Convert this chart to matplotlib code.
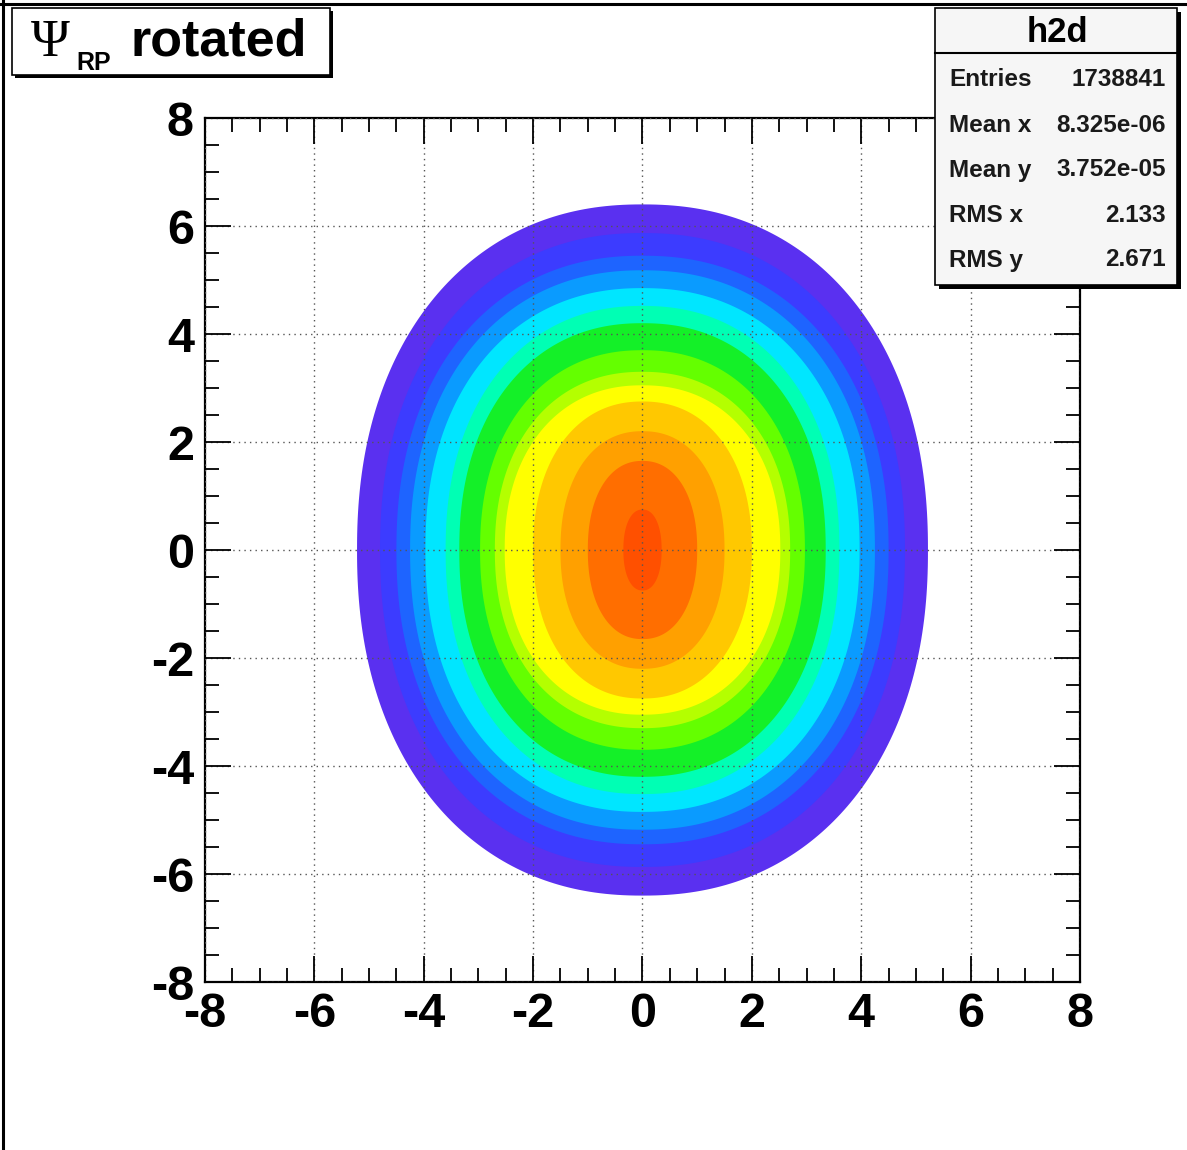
import matplotlib
matplotlib.use("Agg")
import numpy as np
import matplotlib.pyplot as plt
from matplotlib.patches import PathPatch, Rectangle
from matplotlib.path import Path
from matplotlib.lines import Line2D
from matplotlib.ticker import MultipleLocator

plt.rcParams["font.family"] = ["Liberation Sans", "DejaVu Sans"]
plt.rcParams["axes.unicode_minus"] = False

# h2d contour bands, outermost level first: half-extent of each level along x and y
BAND_HALF_X = [5.22, 4.80, 4.50, 4.25, 3.97, 3.60, 3.35, 2.97, 2.70, 2.52, 2.00, 1.50, 1.00, 0.35]
BAND_HALF_Y = [6.40, 5.87, 5.45, 5.18, 4.85, 4.52, 4.20, 3.70, 3.30, 3.05, 2.75, 2.20, 1.65, 0.75]
BAND_COLORS = ["#5a30f0", "#3c3cff", "#1e64ff", "#0a9bff", "#00e6ff", "#00ffb4",
               "#14f028", "#64ff00", "#b4ff00", "#ffff00", "#ffc800", "#ffa000",
               "#ff6e00", "#ff5000"]

# statistics box of h2d
STAT_NAMES = ["Entries", "Mean x", "Mean y", "RMS x", "RMS y"]
STAT_VALUES = ["1738841", "8.325e-06", "3.752e-05", "2.133", "2.671"]

W, H = 1187, 1150
SQUARENESS = 2.2   # contour outlines are a little flatter than an ellipse


def fx(px):
    return px / W


def fy(py):
    return 1 - py / H


def band_path(hx, hy, n=SQUARENESS):
    t = np.linspace(0, 2 * np.pi, 361)
    c, s = np.cos(t), np.sin(t)
    xs = hx * np.sign(c) * np.abs(c) ** (2 / n)
    ys = hy * np.sign(s) * np.abs(s) ** (2 / n)
    return Path(np.column_stack([xs, ys]), closed=True)


def main():
    fig = plt.figure(figsize=(W / 100, H / 100), dpi=100)
    fig.patch.set_facecolor("white")

    ax = fig.add_axes([fx(205), fy(982), fx(1080) - fx(205), fy(118) - fy(982)])
    for hx, hy, c in zip(BAND_HALF_X, BAND_HALF_Y, BAND_COLORS):
        ax.add_patch(PathPatch(band_path(hx, hy), facecolor=c, edgecolor="none", zorder=1))

    ax.set_xlim(-8, 8)
    ax.set_ylim(-8, 8)
    ax.xaxis.set_major_locator(MultipleLocator(2))
    ax.yaxis.set_major_locator(MultipleLocator(2))
    ax.xaxis.set_minor_locator(MultipleLocator(0.5))
    ax.yaxis.set_minor_locator(MultipleLocator(0.5))
    ax.tick_params(which="both", direction="in", top=True, right=True, width=1.3, color="black")
    ax.tick_params(which="major", length=19)
    ax.tick_params(which="minor", length=10)
    ax.tick_params(axis="x", which="major", pad=7, labelsize=35)
    ax.tick_params(axis="y", which="major", pad=8, labelsize=35)
    for lab in ax.get_xticklabels() + ax.get_yticklabels():
        lab.set_fontweight("bold")
    ax.set_axisbelow(False)
    ax.grid(True, which="major", color="#555555", linestyle=(0, (1, 3)), linewidth=1.0)
    for sp in ax.spines.values():
        sp.set_linewidth(1.6)

    # canvas border (top and left edges)
    fig.add_artist(Line2D([0, 1], [fy(4), fy(4)], color="black", lw=2.2, transform=fig.transFigure))
    fig.add_artist(Line2D([fx(3), fx(3)], [0, 1], color="black", lw=2.2, transform=fig.transFigure))

    # title pave
    fig.add_artist(Rectangle((fx(15), fy(78)), fx(330) - fx(12), fy(8) - fy(75),
                             facecolor="black", edgecolor="none", transform=fig.transFigure))
    fig.add_artist(Rectangle((fx(12), fy(75)), fx(330) - fx(12), fy(8) - fy(75),
                             facecolor="white", edgecolor="black", lw=1.2, transform=fig.transFigure))
    fig.text(fx(31), fy(56), "Ψ", fontsize=38, family=["Liberation Serif", "DejaVu Serif"],
             va="baseline", ha="left")
    fig.text(fx(76), fy(70), "RP", fontsize=18, fontweight="bold", va="baseline", ha="left")
    fig.text(fx(131), fy(55), "rotated", fontsize=37.5, fontweight="bold", va="baseline", ha="left")

    # stats pave
    fig.add_artist(Rectangle((fx(939), fy(289)), fx(1177) - fx(935), fy(8) - fy(285),
                             facecolor="black", edgecolor="none", transform=fig.transFigure))
    fig.add_artist(Rectangle((fx(935), fy(285)), fx(1177) - fx(935), fy(8) - fy(285),
                             facecolor="#f6f6f6", edgecolor="black", lw=1.2, transform=fig.transFigure))
    fig.add_artist(Line2D([fx(935), fx(1177)], [fy(53), fy(53)], color="black", lw=1.5,
                          transform=fig.transFigure))
    fig.text(fx(1057), fy(33), "h2d", fontsize=25, fontweight="bold", ha="center", va="center")
    rows_y = [80, 126, 170, 216, 260]
    for name, val, py in zip(STAT_NAMES, STAT_VALUES, rows_y):
        fig.text(fx(949), fy(py), name, fontsize=17.5, fontweight="bold", ha="left", va="center",
                 color="#1a1a1a")
        fig.text(fx(1166), fy(py), val, fontsize=17.5, fontweight="bold", ha="right", va="center",
                 color="#1a1a1a")

    fig.savefig("out.png", dpi=100)
    plt.close(fig)


if __name__ == "__main__":
    main()
